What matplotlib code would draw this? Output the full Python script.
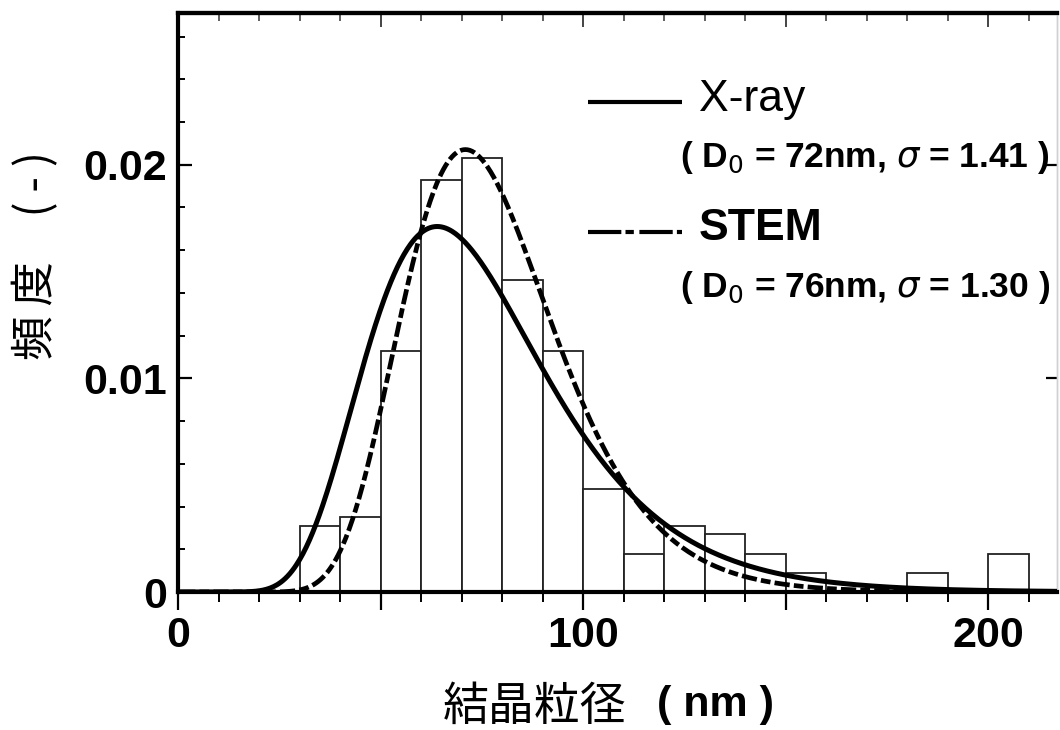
import numpy as np
import matplotlib
matplotlib.use("Agg")
import matplotlib.pyplot as plt
from matplotlib.lines import Line2D
from matplotlib.ticker import FixedLocator, MultipleLocator

plt.rcParams['lines.scale_dashes'] = False

# ---- data -------------------------------------------------------------
bin_left = [30, 40, 50, 60, 70, 80, 90, 100, 110, 120, 130, 140, 150,
            160, 170, 180, 190, 200]
bin_width = 10
frequency = [0.0031, 0.0035, 0.0113, 0.0193, 0.0203, 0.0146, 0.0113,
             0.0048, 0.0018, 0.0031, 0.0027, 0.0018, 0.0009,
             0.0, 0.0, 0.0009, 0.0, 0.0018]

# log-normal fit parameters (median diameter D0 in nm, geometric sigma)
methods = ["X-ray", "STEM"]
d0_nm = [72, 76]
sigma_g = [1.41, 1.30]

xticks_major = [0, 50, 100, 150, 200]
xtick_labels = ["0", "", "100", "", "200"]
yticks_major = [0, 0.01, 0.02]
ytick_labels = ["0", "0.01", "0.02"]

# ---- figure -----------------------------------------------------------
W, H = 1060, 730
fig = plt.figure(figsize=(W / 100, H / 100), dpi=100)
fig.patch.set_facecolor("white")


def fx(px):
    return px / W


def fy(py):
    return 1 - py / H


ax = fig.add_axes([fx(178), fy(592), fx(1057) - fx(178), fy(13) - fy(592)])
ax.set_xlim(0, 217)
ax.set_ylim(0, 0.0271)

# histogram
ax.bar(bin_left, frequency, width=bin_width, align="edge",
       facecolor="white", edgecolor="#222222", linewidth=1.3, zorder=2)


def lognormal_pdf(x, d0, sg):
    s = np.log(sg)
    return np.exp(-(np.log(x / d0)) ** 2 / (2 * s ** 2)) / (x * s * np.sqrt(2 * np.pi))


xs = np.linspace(0.5, 217, 800)
dash_pattern = (0, (11, 3, 7, 3))
styles = [dict(linestyle="-", linewidth=3.6),
          dict(linestyle=dash_pattern, linewidth=3.4)]
for d0, sg, st in zip(d0_nm, sigma_g, styles):
    ax.plot(xs, lognormal_pdf(xs, d0, sg), color="black", zorder=3,
            solid_capstyle="butt", dash_capstyle="butt", **st)

# spines
for side in ("left", "bottom", "top"):
    ax.spines[side].set_linewidth(3.0)
    ax.spines[side].set_zorder(4)
ax.spines["right"].set_linewidth(1.0)
ax.spines["right"].set_color("#d0d0d0")

tick_font = dict(family="Liberation Sans", weight="bold", size=31)

# x axis (bottom ticks outward)
ax.xaxis.set_major_locator(FixedLocator(xticks_major))
ax.xaxis.set_minor_locator(MultipleLocator(10))
ax.set_xticklabels(xtick_labels, fontdict=tick_font)
ax.tick_params(axis="x", which="major", direction="out", length=13, width=1.6, pad=4)
ax.tick_params(axis="x", which="minor", direction="out", length=7, width=1.4)

# y axis (left ticks inward)
ax.yaxis.set_major_locator(FixedLocator(yticks_major))
ax.yaxis.set_minor_locator(MultipleLocator(0.002))
ax.set_yticklabels(ytick_labels, fontdict=tick_font)
ax.tick_params(axis="y", which="major", direction="in", length=10, width=1.6, pad=8)
ax.tick_params(axis="y", which="minor", direction="in", length=5, width=1.4)

# top ticks pointing inward
top = ax.secondary_xaxis("top")
top.xaxis.set_major_locator(FixedLocator(xticks_major))
top.xaxis.set_minor_locator(MultipleLocator(10))
top.set_xticklabels([])
top.tick_params(which="major", direction="in", length=10, width=1.4, color="#444444")
top.tick_params(which="minor", direction="in", length=6, width=1.2, color="#444444")
top.spines["top"].set_linewidth(3.0)

# right ticks pointing inward
right = ax.secondary_yaxis("right")
right.yaxis.set_major_locator(FixedLocator(yticks_major))
right.set_yticklabels([])
right.tick_params(which="major", direction="in", length=8, width=1.6)
right.spines["right"].set_linewidth(1.0)
right.spines["right"].set_color("#d0d0d0")

# axis titles
fig.text(fx(36), fy(255), "頻 度\u3000( - )", rotation=90, ha="center", va="center",
         family=["Noto Sans CJK JP", "DejaVu Sans"], fontsize=32)
fig.text(fx(443), fy(707), "結晶粒径", ha="left", va="center",
         family=["Noto Sans CJK JP", "DejaVu Sans"], fontsize=33)
fig.text(fx(657), fy(705), "( nm )", ha="left", va="center",
         family="Liberation Sans", weight="bold", fontsize=31)

# key for the two fitted curves
key_y = [102, 232]
param_y = [157, 288]
line_styles = ["-", (0, (24, 3, 6, 4))]
name_weight = ["normal", "bold"]
for name, d0, sg, ly, py, ls, nw in zip(methods, d0_nm, sigma_g, key_y,
                                         param_y, line_styles, name_weight):
    fig.add_artist(Line2D([fx(588), fx(682)], [fy(ly), fy(ly)], color="black",
                          linewidth=3.0, linestyle=ls, solid_capstyle="butt",
                          dash_capstyle="butt"))
    fig.text(fx(699), fy(ly - 3), name, ha="left", va="center",
             family="Liberation Sans", weight=nw, fontsize=32)
    fig.text(fx(680), fy(py),
             "( D$_0$ = %dnm, $\\sigma$ = %.2f )" % (d0, sg),
             ha="left", va="center", family="Liberation Sans", weight="bold",
             fontsize=25.5)

fig.savefig("out.png", dpi=100, facecolor="white")
